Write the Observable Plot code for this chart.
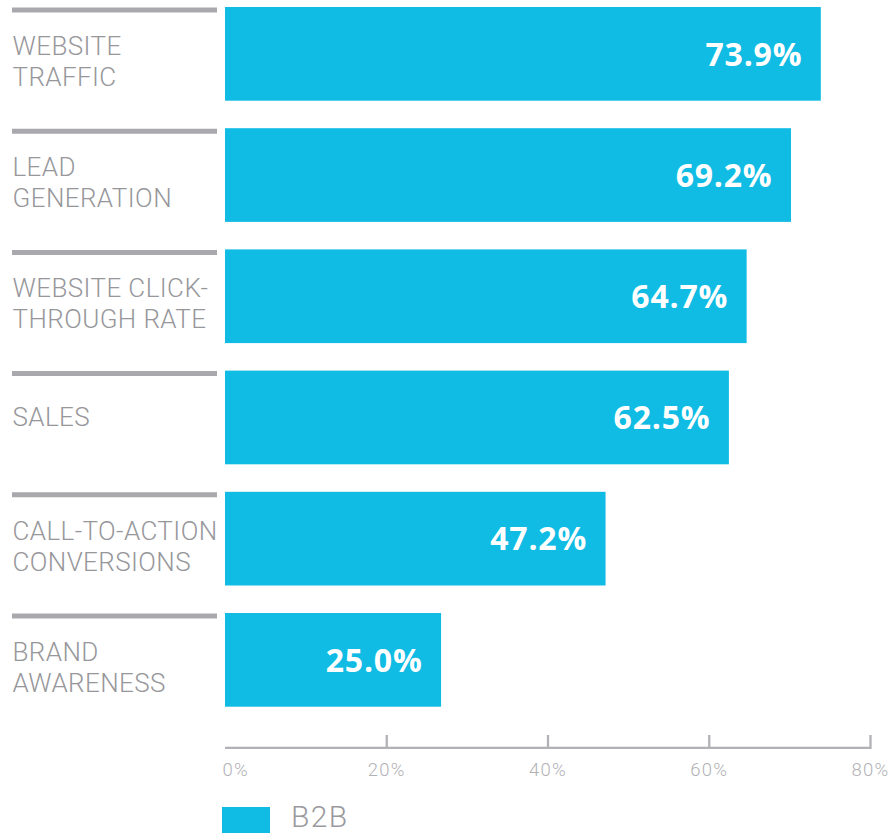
<!DOCTYPE html>
<html>
<head>
<meta charset="utf-8">
<script src="https://cdn.jsdelivr.net/npm/d3@7"></script>
<script src="https://cdn.jsdelivr.net/npm/@observablehq/plot@0.6"></script>
<style>
  html, body { margin: 0; padding: 0; background: #ffffff; overflow: hidden; }
  #chart svg { display: block; }
  g[aria-description="category-labels"] text { letter-spacing: 0.4px; }
  g[aria-description="tick-labels"] text { letter-spacing: 1.3px; }
  g[aria-description="value-labels"] text { letter-spacing: 0.8px; }
  .legend { position: relative; height: 26px; margin-top: 12px; }
  .legend .swatch { position: absolute; left: 222px; top: 0; width: 48px; height: 26px; background: #10bbe4; }
  .legend .name { position: absolute; left: 291px; top: -5px; font-family: Roboto, sans-serif; font-weight: 300; font-size: 30px; line-height: 30px; color: #9a9a9e; letter-spacing: 1.4px; }
</style>
</head>
<body>
<div id="chart"></div>
<div class="legend"><div class="swatch"></div><div class="name" id="legend-name"></div></div>
<script>
// ---- data ----
const categories = [
  "WEBSITE\nTRAFFIC",
  "LEAD\nGENERATION",
  "WEBSITE CLICK-\nTHROUGH RATE",
  "SALES",
  "CALL-TO-ACTION\nCONVERSIONS",
  "BRAND\nAWARENESS"
];
const barValues = [73.9, 70.2, 64.7, 62.5, 47.2, 26.8];
const valueLabels = ["73.9%", "69.2%", "64.7%", "62.5%", "47.2%", "25.0%"];
const tickValues = [0, 20, 40, 60, 80];
const seriesName = "B2B";

// ---- layout / style ----
const W = 893, H = 795;
const axisY = 749;
const bandTop = 7, bandBottom = 706.7, padInner = 0.227;
const step = (bandBottom - bandTop) / (categories.length - padInner);
const bw = step * (1 - padInner);
const blue = "#10bbe4";
const ruleGray = "#a9a9ad";
const labelGray = "#97979b";
const tickGray = "#b2b2b6";

const data = categories.map((c, i) => ({cat: c, value: barValues[i], label: valueLabels[i]}));

const chart = Plot.plot({
  width: W,
  height: H,
  marginLeft: 0,
  marginRight: 0,
  marginTop: 0,
  marginBottom: H - axisY,
  style: {background: "#ffffff", fontFamily: "Roboto, sans-serif"},
  x: {domain: [tickValues[0], tickValues[tickValues.length - 1]], range: [225, 870], axis: null},
  y: {domain: categories, range: [bandTop, bandBottom], paddingInner: padInner, paddingOuter: 0, round: false, axis: null},
  marks: [
    // label column rules
    Plot.ruleY(categories, {y: d => d, dy: -bw / 2 + 2.5, stroke: ruleGray, strokeWidth: 5, insetLeft: 12, insetRight: W - 217}),
    // category labels
    Plot.text(data.filter(d => d.cat.includes("\n")), {
      y: "cat", text: "cat", frameAnchor: "left", dx: 12, dy: 6, textAnchor: "start",
      lineHeight: 31 / 26, fontSize: 26, fontWeight: 300, fill: labelGray, ariaDescription: "category-labels"
    }),
    Plot.text(data.filter(d => !d.cat.includes("\n")), {
      y: "cat", text: "cat", frameAnchor: "left", dx: 12, textAnchor: "start",
      fontSize: 26, fontWeight: 300, fill: labelGray, ariaDescription: "category-labels"
    }),
    // bars
    Plot.barX(data, {x: "value", y: "cat", fill: blue}),
    // value labels
    Plot.text(data, {
      x: "value", y: "cat", text: "label", dx: -19, dy: 1, textAnchor: "end",
      fill: "#ffffff", fontSize: 32, fontWeight: 700, fontFamily: "'Open Sans', sans-serif", ariaDescription: "value-labels"
    }),
    // axis line
    Plot.barX([0], {x1: tickValues[0], x2: tickValues[tickValues.length - 1], insetTop: axisY - 2.3, fill: tickGray}),
    // tick marks (upward)
    Plot.ruleX(tickValues.slice(1), {x: d => d, insetTop: axisY - 14, stroke: tickGray, strokeWidth: 2.3}),
    // tick labels
    Plot.text(tickValues.slice(1), {
      x: d => d, text: d => d + "%", frameAnchor: "bottom", lineAnchor: "top", dy: 13.5,
      fontSize: 18.5, fontWeight: 300, fill: tickGray, ariaDescription: "tick-labels"
    }),
    Plot.text(tickValues.slice(0, 1), {
      x: d => d, text: d => d + "%", frameAnchor: "bottom", lineAnchor: "top", dy: 13.5, dx: -3,
      textAnchor: "start", fontSize: 18.5, fontWeight: 300, fill: tickGray, ariaDescription: "tick-labels"
    })
  ]
});
document.getElementById("chart").appendChild(chart);
document.getElementById("legend-name").textContent = seriesName;
</script>
</body>
</html>
